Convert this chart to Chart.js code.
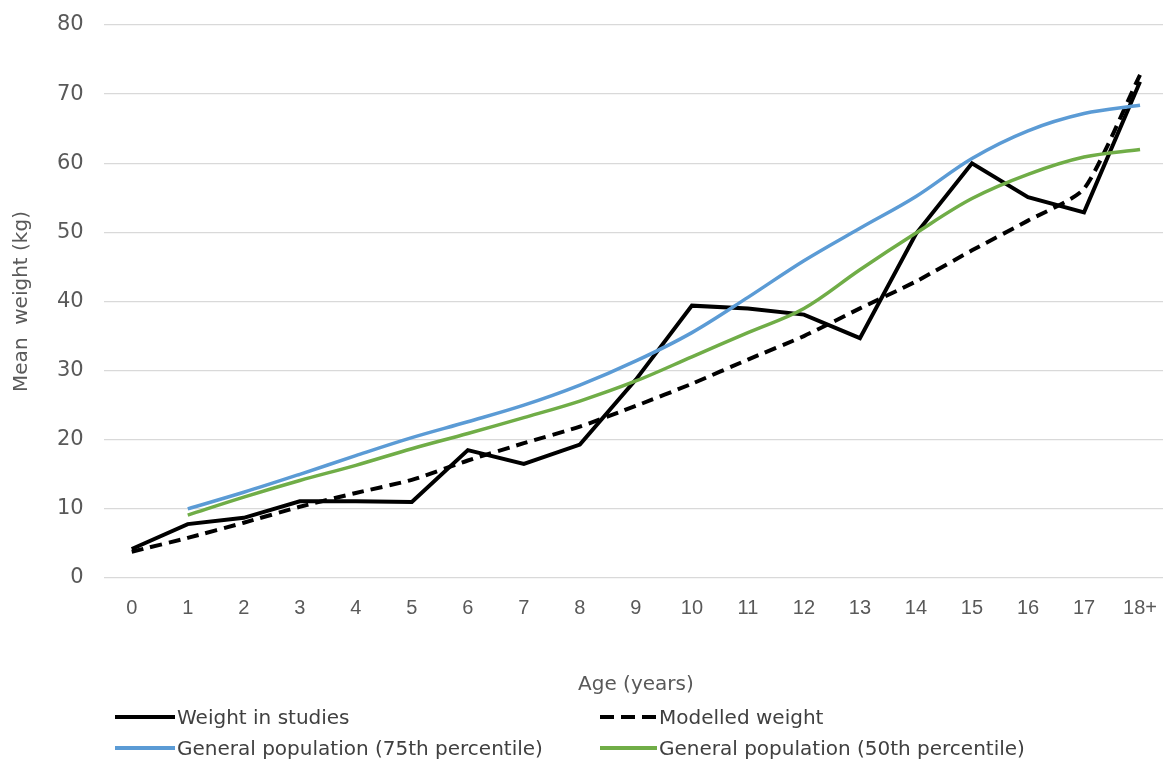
<!DOCTYPE html>
<html>
<head>
<meta charset="utf-8">
<script src="https://cdn.jsdelivr.net/npm/chart.js@4/dist/chart.umd.min.js"></script>
<style>
  body { margin: 0; background: #fff; }
  #wrap { position: relative; width: 1163px; height: 760px; overflow: hidden; }
  .leg { position: absolute; font-family: "DejaVu Sans", sans-serif; font-size: 20px; color: #404040; display: flex; align-items: center; white-space: nowrap; height: 26px; }
  .swatch { width: 60px; height: 4px; margin-right: 2px; }
</style>
</head>
<body>
<div id="wrap">
  <canvas id="myChart" width="1175" height="760"></canvas>
  <div class="leg" style="left:115px; top:704px;"><div class="swatch" style="background:#000"></div>Weight in studies</div>
  <div class="leg" style="left:600px; top:704px;"><div class="swatch" style="width:57px;background:repeating-linear-gradient(to right,#000 0 14px,transparent 14px 21px)"></div>Modelled weight</div>
  <div class="leg" style="left:115px; top:735px;"><div class="swatch" style="background:#5b9bd5;height:3.5px"></div>General population (75th percentile)</div>
  <div class="leg" style="left:600px; top:735px;"><div class="swatch" style="width:57px;background:#70ad47;height:3.5px"></div>General population (50th percentile)</div>
</div>
<script>
var ages = ["0", "1", "2", "3", "4", "5", "6", "7", "8", "9", "10", "11", "12", "13", "14", "15", "16", "17", "18+"]
var studyWeight = [4.2, 7.8, 8.7, 11.1, 11.1, 11.0, 18.5, 16.5, 19.3, 28.7, 39.4, 39.0, 38.1, 34.7, 49.8, 60.0, 55.1, 52.9, 71.8]
var modelledWeight = [3.8, 5.8, 8.0, 10.3, 12.3, 14.2, 17.0, 19.5, 21.9, 24.9, 28.1, 31.6, 35.0, 39.0, 42.9, 47.4, 51.7, 56.3, 72.8]
var pop75 = [null, 10.0, 12.4, 15.0, 17.7, 20.3, 22.6, 25.0, 27.9, 31.4, 35.5, 40.6, 45.9, 50.6, 55.2, 60.7, 64.7, 67.2, 68.4]
var pop50 = [null, 9.1, 11.7, 14.1, 16.3, 18.7, 20.9, 23.2, 25.6, 28.5, 32.0, 35.5, 39.0, 44.6, 49.9, 54.9, 58.4, 60.9, 62.0]
var yTicks = [0, 10, 20, 30, 40, 50, 60, 70, 80]

var wide = "'DejaVu Sans', sans-serif"
var plain = "'Liberation Sans', Arial, sans-serif"
var chartField = document.querySelector("#myChart").getContext("2d")

var myChart = new Chart(chartField, {
    type: "line",
    data: {
        labels: ages,
        datasets: [{
            label: "General population (75th percentile)",
            data: pop75,
            borderColor: "#5b9bd5",
            borderWidth: 3.5,
            tension: 0.35
        }, {
            label: "General population (50th percentile)",
            data: pop50,
            borderColor: "#70ad47",
            borderWidth: 3.5,
            tension: 0.35
        }, {
            label: "Modelled weight",
            data: modelledWeight,
            borderColor: "#000",
            borderWidth: 4,
            borderDash: [12, 7],
            tension: 0.2
        }, {
            label: "Weight in studies",
            data: studyWeight,
            borderColor: "#000",
            borderWidth: 4,
            tension: 0
        }]
    },
    options: {
        responsive: false,
        animation: false,
        elements: { point: { radius: 0 } },
        layout: { padding: { left: 10, right: 0, top: 25, bottom: 63 } },
        plugins: {
            legend: { display: false },
            tooltip: { enabled: false }
        },
        scales: {
            x: {
                offset: true,
                grid: { display: false, drawTicks: false },
                border: { display: false },
                ticks: { color: "#595959", font: { family: plain, size: 20 }, padding: 18, maxRotation: 0 },
                title: { display: true, text: "Age (years)", color: "#595959", font: { family: wide, size: 20 }, padding: { top: 35, bottom: 0 } }
            },
            y: {
                min: 0,
                max: 80,
                afterBuildTicks: function (axis) {
                    axis.ticks = yTicks.map(function (v) { return { value: v } })
                },
                afterFit: function (axis) {
                    // top label padding is handled by layout.padding.top
                    axis.paddingTop = 0
                },
                grid: { color: "#d9d9d9", lineWidth: 1.3, drawTicks: false },
                border: { display: false },
                ticks: { color: "#595959", font: { family: wide, size: 21 }, padding: 20 },
                title: { display: true, text: "Mean  weight (kg)", color: "#595959", font: { family: wide, size: 20 }, padding: { top: 0, bottom: 3 } }
            }
        }
    }
});
</script>
</body>
</html>
